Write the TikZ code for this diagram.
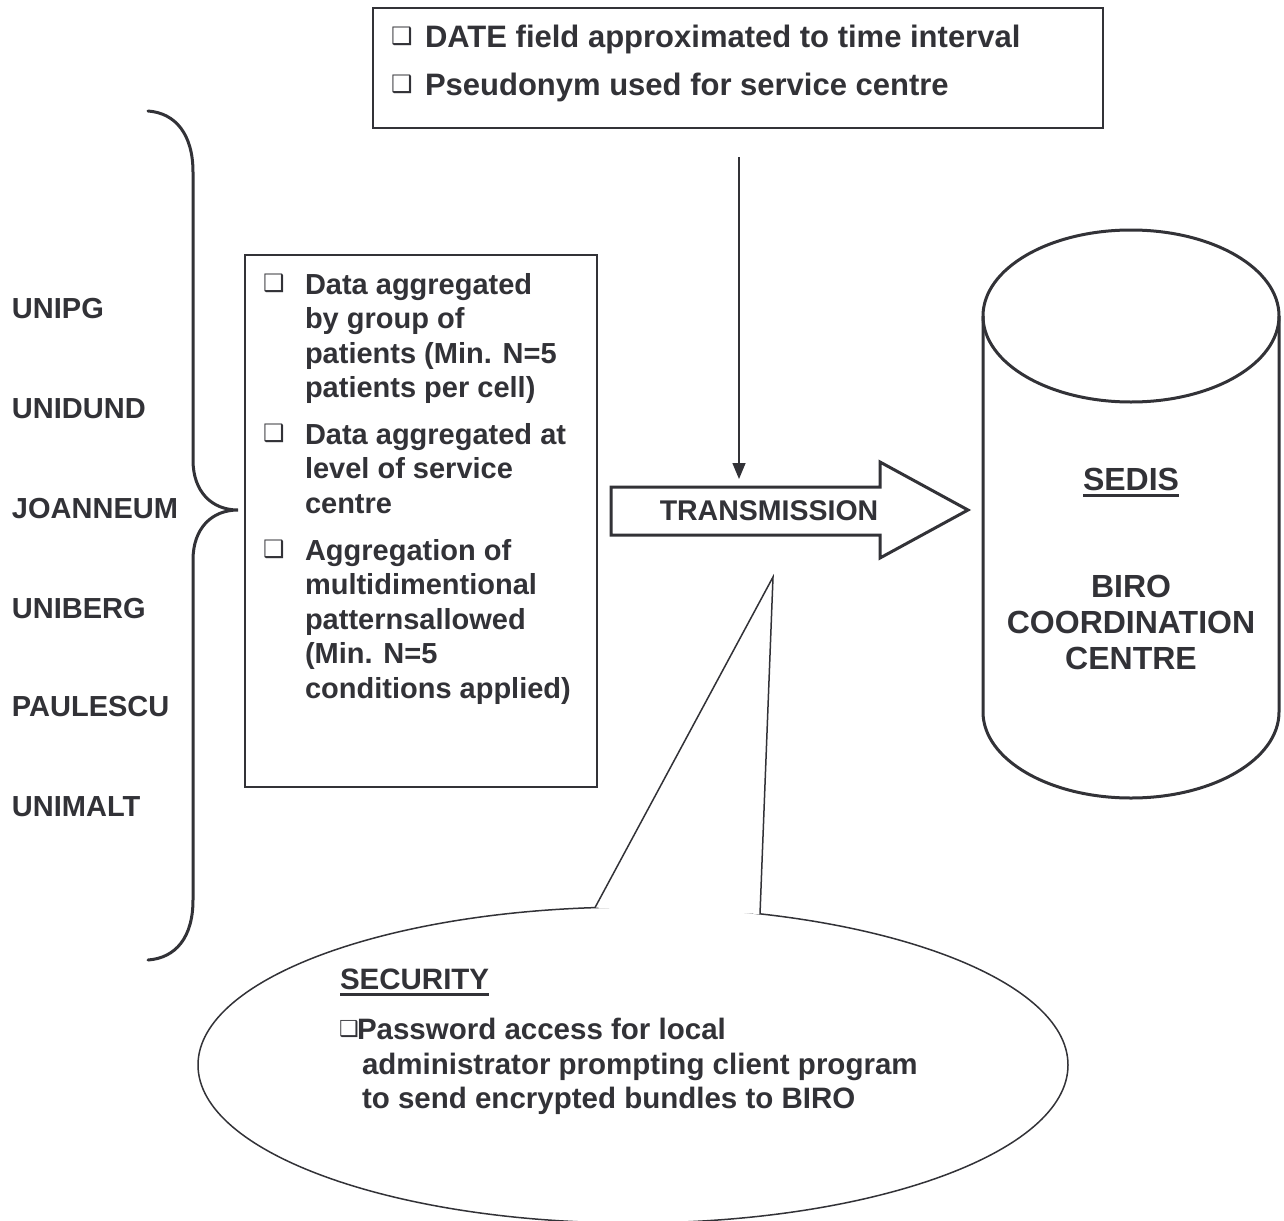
\documentclass[tikz,border=0pt]{standalone}
\usepackage{fontspec}
\setmainfont{Liberation Sans}
\newfontfamily\dejavu{DejaVu Sans}
\usetikzlibrary{arrows.meta,shapes.geometric}
\definecolor{ink}{RGB}{50,50,55}
\begin{document}
\begin{tikzpicture}[x=1pt,y=-1pt,
  every node/.style={inner sep=0pt,outer sep=0pt,text=ink},
  lab/.style={anchor=base west,font=\bfseries\fontsize{29}{34}\selectfont},
  toptxt/.style={anchor=base west,font=\bfseries\fontsize{31}{36}\selectfont},
  sectxt/.style={anchor=base west,font=\bfseries\fontsize{29.5}{35}\selectfont},
  cyltxt/.style={anchor=base,font=\bfseries\fontsize{32}{36}\selectfont},
  bul/.style={anchor=base west,font=\dejavu\fontsize{24}{24}\selectfont},
  thinbox/.style={draw=ink,line width=1.5pt,rectangle,fill=white},
  heavy/.style={draw=ink,line width=3pt,line join=miter},
]
\fill[white] (0,0) rectangle (1284,1220);
\useasboundingbox (0,0) rectangle (1284,1220);

% ---------- top box ----------
\node[thinbox,line width=2pt,minimum width=730pt,minimum height=120pt] (topbox) at (738,68) {};
\node[bul] (tb1) at (391,45) {❑};
\node[toptxt] (tt1) at (425,48) {DATE field approximated to time interval};
\node[bul] (tb2) at (391,93) {❑};
\node[toptxt] (tt2) at (425,96) {Pseudonym used for service centre};

% ---------- brace ----------
\draw[ink,line width=3pt,line cap=round]
  (148,111) .. controls (176,113) and (193,135) .. (193,172)
  -- (193,460) .. controls (193,492) and (212,510) .. (238,510)
  .. controls (212,510) and (193,528) .. (193,560)
  -- (193,900) .. controls (193,937) and (176,958) .. (148,960);

% ---------- partner labels ----------
\foreach \n/\y/\t in {1/318/UNIPG,2/418/UNIDUND,3/518/JOANNEUM,4/618/UNIBERG,5/716/PAULESCU,6/816/UNIMALT}
  \node[lab] (p\n) at (12,\y) {\t};

% ---------- left box ----------
\node[thinbox,minimum width=352pt,minimum height=532pt] (leftbox) at (421,521) {};
\node[bul] (lb1) at (263,291) {❑};
\node[bul] (lb2) at (263,441) {❑};
\node[bul] (lb3) at (263,557) {❑};
\foreach \n/\y/\t in {1/294/Data aggregated,2/328.5/by group of,3/363/patients (Min. N=5,4/397.5/patients per cell),
  5/444/Data aggregated at,6/478.5/level of service,7/513/centre,
  8/560/Aggregation of,9/594.5/multidimentional,10/629/patternsallowed,11/663.5/(Min. N=5,12/698/conditions applied)}
  \node[lab] (lt\n) at (305,\y) {\t};

% ---------- vertical arrow ----------
\coordinate (vtop) at (739,157);
\coordinate (vbot) at (739,479);
\draw[ink,line width=1.5pt,-{Triangle[length=16pt,width=13pt]}] (vtop) -- (vbot);

% ---------- transmission arrow ----------
\draw[heavy,fill=white] (611,487) -- (880,487) -- (880,462) -- (968,510) -- (880,558) -- (880,535) -- (611,535) -- cycle;
\node[anchor=base,font=\bfseries\fontsize{28.5}{34}\selectfont] (trans) at (769,520) {TRANSMISSION};

% ---------- cylinder ----------
\draw[ink,line width=3pt]
  (983,316) -- (983,712)
  .. controls (983,759.5) and (1049.3,798) .. (1131,798)
  .. controls (1212.7,798) and (1279,759.5) .. (1279,712)
  -- (1279,316);
\draw[ink,line width=3pt] (1131,316) ellipse (148pt and 86pt);
\node[cyltxt] (sedis) at (1131,490) {SEDIS};
\draw[ink,line width=3pt] ([yshift=-5pt]sedis.base west) -- ([yshift=-5pt]sedis.base east);
\node[cyltxt] (c1) at (1131,597) {BIRO};
\node[cyltxt] (c2) at (1131,633) {COORDINATION};
\node[cyltxt] (c3) at (1131,669) {CENTRE};

% ---------- security callout ----------
\node[ellipse,draw=ink,line width=1.5pt,minimum width=870pt,minimum height=316pt] (callout) at (633,1065) {};
\coordinate (cl) at (595,907.6);
\coordinate (ctip) at (773,577);
\coordinate (cr) at (760,914);
\fill[white] (cl) -- (ctip) -- (cr) -- cycle;
\draw[ink,line width=1.5pt,line join=miter] (cl) -- (ctip) -- (cr);
\node[sectxt] (sec) at (340,989) {SECURITY};
\draw[ink,line width=3pt] ([yshift=-5pt]sec.base west) -- ([yshift=-5pt]sec.base east);
\node[anchor=base west,font=\dejavu\fontsize{22}{22}\selectfont] (sb) at (339,1036) {\makebox[15pt][l]{❑}};
\node[sectxt] (s1) at (357,1039) {Password access for local};
\node[sectxt] (s2) at (362,1074) {administrator prompting client program};
\node[sectxt] (s3) at (362,1108) {to send encrypted bundles to BIRO};
\end{tikzpicture}
\end{document}
